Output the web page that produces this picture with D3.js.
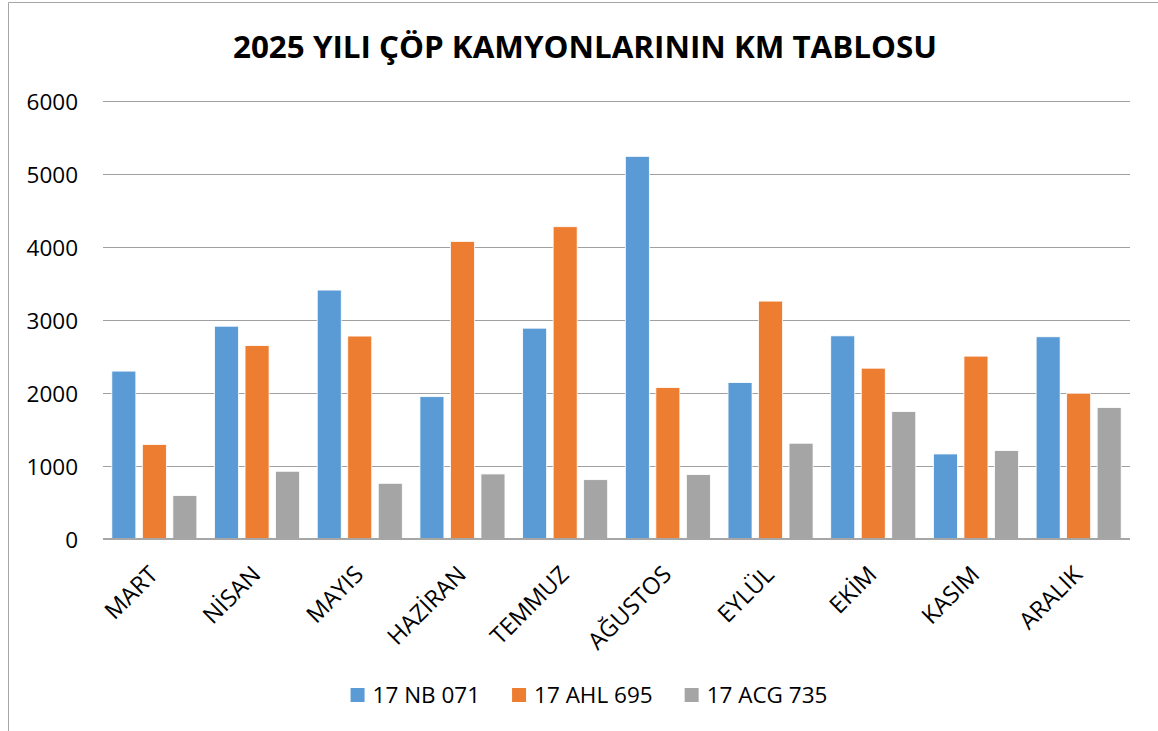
<!DOCTYPE html>
<html>
<head>
<meta charset="utf-8">
<script src="https://cdn.jsdelivr.net/npm/d3@7"></script>
<style>
  html, body { margin: 0; padding: 0; background: #fff; }
  svg { display: block; }
</style>
</head>
<body>
<svg id="chart" width="1158" height="731"></svg>
<script>
const title = "2025 YILI ÇÖP KAMYONLARININ KM TABLOSU";
const months = ["MART", "NİSAN", "MAYIS", "HAZİRAN", "TEMMUZ", "AĞUSTOS", "EYLÜL", "EKİM", "KASIM", "ARALIK"];
const seriesNames = ["17 NB 071", "17 AHL 695", "17 ACG 735"];
const nb071  = [2300, 2915, 3410, 1950, 2888, 5242, 2143, 2783, 1165, 2770];
const ahl695 = [1295, 2650, 2780, 4077, 4278, 2075, 3259, 2340, 2505, 1997];
const acg735 = [595, 928, 763, 891, 813, 882, 1312, 1746, 1211, 1801];
const yTicks = [0, 1000, 2000, 3000, 4000, 5000, 6000];
const colors = ["#5B9BD5", "#ED7D31", "#A5A5A5"];

const seriesValues = [nb071, ahl695, acg735];
const svg = d3.select("#chart");
const font = "'Open Sans', 'DejaVu Sans', sans-serif";

// border of chart area
svg.append("path")
  .attr("d", "M8.5,731 L8.5,2.5 L1158,2.5")
  .attr("fill", "none").attr("stroke", "#A6A6A6").attr("stroke-width", 1);

const plot = { left: 103, right: 1130, top: 101, bottom: 539 };

const x0 = d3.scaleBand().domain(months).range([plot.left, plot.right])
  .paddingInner(0.172).paddingOuter(0.086);
const x1 = d3.scaleBand().domain(d3.range(3)).range([0, x0.bandwidth()]).paddingInner(0.213);
const y = d3.scaleLinear().domain([0, 6000]).range([plot.bottom, plot.top]);

// title
svg.append("text")
  .attr("x", 585).attr("y", 58)
  .attr("text-anchor", "middle")
  .attr("font-family", font).attr("font-weight", 700).attr("font-size", 30)
  .attr("textLength", 704).attr("lengthAdjust", "spacingAndGlyphs")
  .attr("fill", "#000")
  .text(title);

// gridlines + y axis
const yAxis = d3.axisLeft(y).tickValues(yTicks).tickSize(-(plot.right - plot.left)).tickPadding(25).tickFormat(d3.format("d"));
const gy = svg.append("g").attr("transform", `translate(${plot.left},0)`).call(yAxis);
gy.select(".domain").remove();
gy.selectAll(".tick line").attr("stroke", "#A0A0A0").attr("stroke-width", 1.2);
gy.selectAll(".tick text")
  .attr("font-family", font).attr("font-size", 22.5).attr("fill", "#000")
  .attr("dy", "0.36em");

// bars
const groups = svg.append("g").selectAll("g")
  .data(months).join("g")
  .attr("transform", d => `translate(${x0(d)},0)`);

groups.selectAll("rect")
  .data((m, i) => seriesValues.map((vals, s) => ({ s, v: vals[i] })))
  .join("rect")
  .attr("x", d => x1(d.s))
  .attr("width", x1.bandwidth())
  .attr("y", d => y(d.v))
  .attr("height", d => y(0) - y(d.v))
  .attr("fill", d => colors[d.s])
  .attr("stroke", "#ffffff").attr("stroke-width", 0.8);

// baseline
svg.append("line")
  .attr("x1", plot.left).attr("x2", plot.right)
  .attr("y1", y(0)).attr("y2", y(0))
  .attr("stroke", "#A6A6A6").attr("stroke-width", 2);

// x axis labels (rotated)
const xAxis = d3.axisBottom(x0).tickSize(0).tickPadding(0);
const gx = svg.append("g").attr("transform", `translate(0,${plot.bottom})`).call(xAxis);
gx.select(".domain").remove();
gx.selectAll(".tick text")
  .attr("font-family", font).attr("font-size", 23.5).attr("fill", "#000")
  .attr("text-anchor", "end")
  .attr("x", 0).attr("y", 0).attr("dy", 0)
  .attr("transform", "translate(5,37) rotate(-45)");

// legend
const legend = svg.append("g");
const items = legend.selectAll("g").data(seriesNames).join("g");
items.append("rect")
  .attr("width", 14).attr("height", 14)
  .attr("y", -15)
  .attr("fill", (d, i) => colors[i]);
items.append("text")
  .attr("x", 22).attr("y", 0)
  .attr("font-family", font).attr("font-size", 22.5).attr("fill", "#000")
  .text(d => d);
const widths = [];
items.each(function () {
  const w = d3.select(this).select("text").node().getComputedTextLength() + 22;
  widths.push(w);
});
const gap = 32;
const total = d3.sum(widths) + gap * (widths.length - 1);
let start = 589 - total / 2;
items.attr("transform", (d, i) => {
  const t = `translate(${start},703)`;
  start += widths[i] + gap;
  return t;
});
</script>
</body>
</html>
